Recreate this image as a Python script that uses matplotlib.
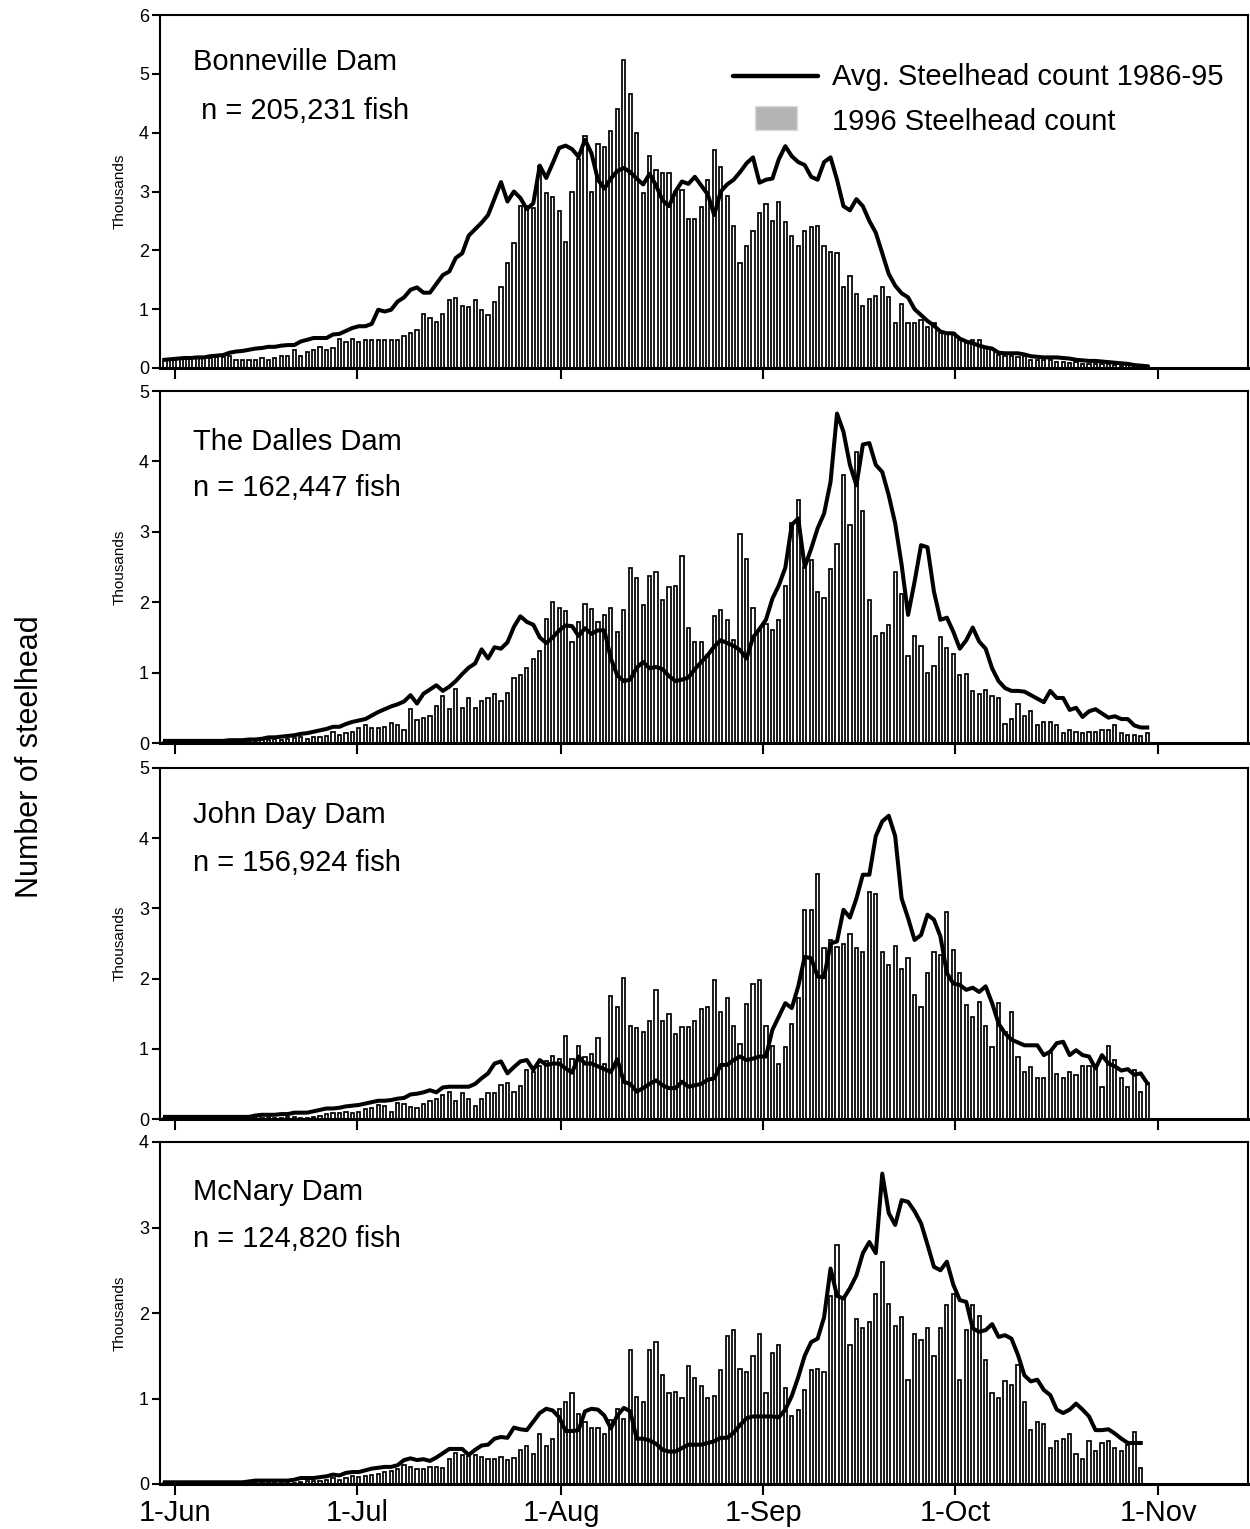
import numpy as np
import matplotlib.pyplot as plt
from matplotlib.patches import Rectangle

plt.rcParams['font.family'] = ['Liberation Sans', 'DejaVu Sans']

# daily steelhead counts in thousands, day 0 = 1 June
# Bonneville
bonn_1996 = [0.15, 0.15, 0.16, 0.16, 0.17, 0.17, 0.18, 0.17, 0.18, 0.19, 0.20,
             0.13, 0.13, 0.13, 0.13, 0.17, 0.13, 0.17, 0.21, 0.21, 0.31,
             0.20, 0.28, 0.31, 0.35, 0.30, 0.34, 0.50, 0.45, 0.50, 0.45,
             0.48, 0.48, 0.47, 0.48, 0.48, 0.48, 0.55, 0.60, 0.64, 0.92,
             0.85, 0.78, 0.92, 1.16, 1.19, 1.05, 1.03, 1.16, 0.99, 0.90,
             1.12, 1.37, 1.78, 2.12, 2.76, 2.76, 2.72, 3.44, 2.97, 2.90,
             2.67, 2.15, 3.00, 3.55, 3.95, 3.00, 3.81, 3.75, 4.02, 4.40,
             5.24, 4.66, 3.99, 2.97, 3.61, 3.37, 3.31, 3.31, 2.99, 3.02,
             2.53, 2.53, 2.73, 3.19, 3.70, 3.41, 2.93, 2.41, 1.78, 2.07,
             2.33, 2.63, 2.79, 2.50, 2.83, 2.49, 2.24, 2.08, 2.33, 2.39,
             2.42, 2.08, 1.98, 1.95, 1.37, 1.56, 1.26, 1.06, 1.17, 1.23,
             1.37, 1.20, 0.77, 1.09, 0.76, 0.76, 0.82, 0.70, 0.77, 0.59,
             0.59, 0.59, 0.48, 0.42, 0.48, 0.48, 0.36, 0.33, 0.22, 0.20,
             0.20, 0.18, 0.20, 0.14, 0.14, 0.13, 0.14, 0.10, 0.10, 0.09,
             0.10, 0.07, 0.06, 0.07, 0.06, 0.07, 0.05, 0.04, 0.05, 0.03, 0.03, 0.03]
bonn_avg = [0.14, 0.15, 0.16, 0.17, 0.17, 0.18, 0.18, 0.20, 0.21, 0.22, 0.26,
            0.28, 0.29, 0.31, 0.33, 0.34, 0.36, 0.36, 0.38, 0.39, 0.39,
            0.45, 0.48, 0.51, 0.51, 0.51, 0.57, 0.58, 0.63, 0.68, 0.71,
            0.71, 0.75, 0.99, 0.96, 0.99, 1.13, 1.20, 1.33, 1.37, 1.28,
            1.28, 1.43, 1.58, 1.64, 1.87, 1.95, 2.25, 2.36, 2.47, 2.60,
            2.88, 3.16, 2.83, 3.00, 2.89, 2.70, 2.80, 3.44, 3.23, 3.48,
            3.74, 3.78, 3.72, 3.59, 3.88, 3.65, 3.20, 3.05, 3.22, 3.35,
            3.40, 3.33, 3.22, 3.12, 3.30, 3.10, 2.85, 2.75, 3.00, 3.17,
            3.13, 3.25, 3.10, 2.95, 2.60, 3.00, 3.12, 3.20, 3.33, 3.48,
            3.58, 3.15, 3.20, 3.22, 3.55, 3.77, 3.60, 3.50, 3.45, 3.25,
            3.20, 3.50, 3.58, 3.20, 2.75, 2.68, 2.87, 2.75, 2.50, 2.30,
            1.95, 1.60, 1.40, 1.27, 1.20, 1.00, 0.90, 0.80, 0.72, 0.62,
            0.59, 0.59, 0.50, 0.45, 0.42, 0.38, 0.35, 0.33, 0.26, 0.25,
            0.25, 0.25, 0.23, 0.20, 0.19, 0.18, 0.18, 0.18, 0.17, 0.16,
            0.14, 0.13, 0.12, 0.12, 0.11, 0.10, 0.09, 0.08, 0.07, 0.05, 0.04, 0.03]

# The Dalles
dalles_1996 = [0.02, 0.02, 0.01, 0.02, 0.02, 0.03, 0.02, 0.02, 0.03, 0.02,
               0.03, 0.03, 0.04, 0.03, 0.03, 0.04, 0.04, 0.05,
               0.04, 0.05, 0.07, 0.08, 0.06, 0.09, 0.08, 0.10, 0.16, 0.11, 0.14, 0.16, 0.22,
               0.25, 0.22, 0.22, 0.23, 0.28, 0.25, 0.18, 0.48, 0.33, 0.36,
               0.39, 0.53, 0.67, 0.48, 0.76, 0.50, 0.64, 0.50, 0.59, 0.64, 0.69,
               0.60, 0.71, 0.93, 0.96, 1.07, 1.19, 1.30, 1.76, 2.00,
               1.92, 1.87, 1.44, 1.72, 1.98, 1.90, 1.72, 1.82, 1.92, 1.58,
               1.89, 2.49, 2.35, 1.96, 2.37, 2.43, 2.03, 2.21, 2.23, 2.66,
               1.63, 1.44, 1.44, 1.25, 1.81, 1.89, 1.75, 1.46, 2.97, 2.61,
               1.92, 1.60, 1.69, 1.60, 1.75, 2.23, 3.12, 3.45, 2.50, 2.60,
               2.14, 2.06, 2.47, 2.83, 3.80, 3.10, 4.14, 3.29, 2.03, 1.52,
               1.56, 1.67, 2.43, 2.12, 1.24, 1.52, 1.38, 0.99, 1.10, 1.50,
               1.35, 1.26, 0.96, 0.98, 0.74, 0.69, 0.75, 0.67, 0.64, 0.27,
               0.34, 0.56, 0.39, 0.45, 0.25, 0.30, 0.30, 0.25, 0.14, 0.18,
               0.16, 0.14, 0.16, 0.16, 0.19, 0.19, 0.25, 0.14, 0.12, 0.11, 0.10, 0.14]
dalles_avg = [0.03, 0.03, 0.03, 0.03, 0.03, 0.03, 0.03, 0.03, 0.03, 0.03,
              0.04, 0.04, 0.04, 0.05, 0.05,
              0.06, 0.08, 0.08, 0.09, 0.10, 0.11,
              0.13, 0.14, 0.16, 0.18, 0.20, 0.23, 0.23, 0.27, 0.30, 0.32,
              0.34, 0.39, 0.44, 0.48, 0.52, 0.55, 0.59, 0.68, 0.56, 0.70,
              0.76, 0.82, 0.74, 0.80, 0.88, 0.98, 1.07, 1.13, 1.33, 1.20, 1.36,
              1.34, 1.43, 1.65, 1.80, 1.72, 1.68, 1.50, 1.42, 1.50,
              1.60, 1.67, 1.66, 1.52, 1.63, 1.55, 1.60, 1.60, 1.20, 0.96,
              0.88, 0.90, 1.07, 1.15, 1.06, 1.08, 1.05, 0.95, 0.88, 0.90,
              0.93, 1.05, 1.15, 1.25, 1.37, 1.46, 1.42, 1.38, 1.32, 1.20,
              1.50, 1.62, 1.75, 2.05, 2.24, 2.49, 3.10, 3.19, 2.50, 2.76,
              3.05, 3.26, 3.71, 4.68, 4.42, 3.95, 3.66, 4.24, 4.26, 3.95,
              3.85, 3.52, 3.12, 2.53, 1.82, 2.29, 2.81, 2.78, 2.15, 1.75,
              1.78, 1.58, 1.34, 1.46, 1.64, 1.44, 1.34, 1.06, 0.88, 0.78,
              0.74, 0.74, 0.73, 0.68, 0.63, 0.58, 0.74, 0.64, 0.64, 0.47,
              0.50, 0.37, 0.45, 0.48, 0.42, 0.36, 0.38, 0.34, 0.34, 0.25, 0.22, 0.22]

# John Day
jday_1996 = [0.02, 0.02, 0.02, 0.01, 0.01, 0.02, 0.02, 0.01, 0.02, 0.02, 0.02,
             0.01, 0.02, 0.02, 0.02, 0.02, 0.03, 0.02, 0.02, 0.03, 0.03, 0.02,
             0.02, 0.03, 0.04, 0.07, 0.09, 0.09, 0.10, 0.09, 0.10,
             0.14, 0.15, 0.20, 0.18, 0.10, 0.23, 0.21, 0.17, 0.15, 0.22,
             0.26, 0.28, 0.34, 0.38, 0.26, 0.37, 0.28, 0.18, 0.29, 0.37, 0.37,
             0.48, 0.51, 0.39, 0.47, 0.70, 0.67, 0.75, 0.82, 0.90,
             0.86, 1.18, 0.86, 1.04, 0.88, 0.93, 1.16, 0.78, 1.75, 1.59,
             2.01, 1.32, 1.30, 1.24, 1.39, 1.84, 1.39, 1.50, 1.21, 1.31,
             1.31, 1.39, 1.56, 1.59, 1.98, 1.53, 1.73, 1.32, 1.07, 1.64,
             1.92, 1.98, 1.32, 1.04, 0.78, 1.02, 1.35, 1.73, 2.98, 2.98,
             3.49, 2.43, 2.55, 2.45, 2.50, 2.64, 2.43, 2.38, 3.23, 3.20,
             2.38, 2.19, 2.47, 2.13, 2.30, 1.77, 1.59, 2.08, 2.38, 2.34,
             2.95, 2.41, 2.08, 1.62, 1.45, 1.67, 1.32, 1.02, 1.65, 1.24,
             1.53, 0.88, 0.67, 0.74, 0.58, 0.58, 0.94, 0.64, 0.58, 0.67,
             0.63, 0.75, 0.75, 0.77, 0.45, 1.04, 0.84, 0.59, 0.45, 0.70, 0.39, 0.51]
jday_avg = [0.03, 0.03, 0.03, 0.03, 0.03, 0.03, 0.03, 0.03, 0.03, 0.03, 0.03, 0.03, 0.03,
            0.03, 0.05, 0.06, 0.06, 0.06, 0.07, 0.07, 0.09, 0.09, 0.09,
            0.11, 0.13, 0.15, 0.15, 0.16, 0.18, 0.19, 0.20,
            0.22, 0.24, 0.26, 0.26, 0.27, 0.29, 0.30, 0.35, 0.36, 0.38,
            0.41, 0.38, 0.45, 0.46, 0.46, 0.46, 0.46, 0.50, 0.58, 0.65, 0.79,
            0.82, 0.65, 0.74, 0.82, 0.84, 0.70, 0.84, 0.77, 0.79,
            0.79, 0.72, 0.66, 0.89, 0.79, 0.79, 0.75, 0.71, 0.67, 0.85,
            0.53, 0.50, 0.39, 0.44, 0.50, 0.55, 0.48, 0.44, 0.44, 0.53,
            0.46, 0.48, 0.50, 0.56, 0.58, 0.77, 0.77, 0.84, 0.89, 0.84,
            0.86, 0.89, 0.89, 1.27, 1.46, 1.65, 1.58, 1.89, 2.31, 2.29,
            2.03, 2.02, 2.50, 2.53, 2.98, 2.87, 3.14, 3.48, 3.48, 4.03,
            4.24, 4.32, 4.03, 3.14, 2.86, 2.55, 2.62, 2.91, 2.84, 2.60,
            2.08, 1.93, 1.91, 1.84, 1.87, 1.81, 1.89, 1.65, 1.36, 1.22,
            1.13, 1.09, 1.05, 1.05, 1.05, 0.91, 0.96, 1.08, 1.10, 0.91,
            0.98, 0.91, 0.89, 0.72, 0.91, 0.79, 0.75, 0.69, 0.71, 0.63, 0.65, 0.51]

# McNary
mcn_1996 = [0.01, 0.01, 0.01, 0.01, 0.01, 0.01, 0.01, 0.01, 0.01, 0.01, 0.01,
            0.01, 0.01, 0.01, 0.01, 0.01, 0.01, 0.01, 0.01, 0.01, 0.01,
            0.02, 0.03, 0.03, 0.04, 0.05, 0.07, 0.05, 0.07, 0.09, 0.08,
            0.09, 0.10, 0.12, 0.14, 0.15, 0.18, 0.22, 0.20, 0.18, 0.18,
            0.20, 0.20, 0.19, 0.29, 0.36, 0.34, 0.33, 0.34, 0.31, 0.29, 0.29,
            0.31, 0.28, 0.30, 0.40, 0.45, 0.35, 0.58, 0.45, 0.53,
            0.88, 0.96, 1.07, 0.82, 0.73, 0.65, 0.65, 0.59, 0.75, 0.88,
            0.76, 1.57, 1.02, 0.96, 1.57, 1.66, 1.27, 1.06, 1.08, 1.01,
            1.38, 1.24, 1.15, 1.01, 1.03, 1.33, 1.73, 1.80, 1.35, 1.31,
            1.50, 1.75, 1.07, 1.53, 1.62, 1.12, 0.79, 0.87, 1.10, 1.33,
            1.35, 1.31, 2.20, 2.80, 2.17, 1.63, 1.93, 1.83, 1.89, 2.22,
            2.60, 2.10, 1.85, 1.95, 1.22, 1.75, 1.69, 1.82, 1.50, 1.83,
            2.09, 2.22, 1.22, 1.80, 2.09, 1.97, 1.45, 1.06, 1.01, 1.20,
            1.16, 1.39, 0.96, 0.63, 0.73, 0.70, 0.42, 0.50, 0.53, 0.58,
            0.35, 0.29, 0.50, 0.39, 0.48, 0.50, 0.42, 0.39, 0.46, 0.61, 0.19]
mcn_avg = [0.02, 0.02, 0.02, 0.02, 0.02, 0.02, 0.02, 0.02, 0.02, 0.02, 0.02, 0.02, 0.02,
           0.03, 0.04, 0.04, 0.04, 0.04, 0.04, 0.04, 0.05,
           0.07, 0.07, 0.07, 0.08, 0.09, 0.11, 0.10, 0.13, 0.14, 0.14,
           0.16, 0.18, 0.19, 0.20, 0.20, 0.22, 0.28, 0.30, 0.28, 0.29,
           0.27, 0.31, 0.36, 0.41, 0.41, 0.41, 0.34, 0.40, 0.45, 0.46, 0.53,
           0.55, 0.54, 0.66, 0.64, 0.63, 0.73, 0.83, 0.88, 0.86,
           0.78, 0.62, 0.62, 0.63, 0.85, 0.88, 0.87, 0.80, 0.65, 0.80,
           0.89, 0.85, 0.53, 0.53, 0.51, 0.47, 0.40, 0.38, 0.38, 0.42,
           0.46, 0.46, 0.46, 0.48, 0.50, 0.54, 0.54, 0.60, 0.69, 0.77,
           0.79, 0.79, 0.79, 0.79, 0.78, 0.87, 1.03, 1.25, 1.50, 1.66,
           1.70, 1.95, 2.52, 2.20, 2.17, 2.29, 2.44, 2.70, 2.83, 2.70,
           3.63, 3.17, 3.03, 3.32, 3.30, 3.19, 3.05, 2.80, 2.54, 2.50,
           2.60, 2.33, 2.15, 2.13, 1.82, 1.78, 1.80, 1.87, 1.72, 1.74,
           1.70, 1.51, 1.27, 1.20, 1.22, 1.10, 1.04, 0.87, 0.83, 0.87,
           0.94, 0.87, 0.79, 0.63, 0.63, 0.64, 0.59, 0.53, 0.48, 0.48, 0.48]

dam_names = ['Bonneville Dam', 'The Dalles Dam', 'John Day Dam', 'McNary Dam']
dam_totals = [' n = 205,231 fish', 'n = 162,447 fish', 'n = 156,924 fish', 'n = 124,820 fish']
counts_1996 = [bonn_1996, dalles_1996, jday_1996, mcn_1996]
counts_avg = [bonn_avg, dalles_avg, jday_avg, mcn_avg]
y_max = [6, 5, 5, 4]
month_labels = ['1-Jun', '1-Jul', '1-Aug', '1-Sep', '1-Oct', '1-Nov']
month_pos = [1.5, 29.7, 61.3, 92.6, 122.3, 153.7]

W, H = 1250, 1529
fig = plt.figure(figsize=(W / 100, H / 100), dpi=100)

# panel boxes in pixels: (top, bottom)
boxes = [(15, 368), (391, 743), (768, 1119), (1142, 1484)]
name_base = [70, 450, 823, 1200]
total_base = [119, 496, 871, 1247]
left_px, right_px = 160, 1248

axes = []
for i, (top, bot) in enumerate(boxes):
    ax = fig.add_axes([left_px / W, 1 - bot / H, (right_px - left_px) / W, (bot - top) / H])
    axes.append(ax)
    x1 = np.arange(len(counts_1996[i]))
    x2 = np.arange(len(counts_avg[i]))
    ax.bar(x1, counts_1996[i], width=0.5, color='white', edgecolor='black', linewidth=1.25, zorder=2)
    ax.plot(x2, counts_avg[i], color='black', lw=2.9, zorder=3)
    ax.set_xlim(-0.77, 167.6)
    ax.set_ylim(0, y_max[i])
    ax.set_yticks(range(0, y_max[i] + 1))
    ax.set_xticks(month_pos)
    if i == 3:
        ax.set_xticklabels(month_labels, fontsize=21)
    else:
        ax.set_xticklabels([])
    ax.tick_params(axis='y', labelsize=13, length=6, width=1.5, pad=2)
    ax.tick_params(axis='x', length=8, width=1.5, pad=3)
    for s in ax.spines.values():
        s.set_linewidth(1.5)
    ax.spines['bottom'].set_linewidth(2.2)
    ax.text(-0.0368, 0.5, 'Thousands', transform=ax.transAxes, rotation=90,
            ha='center', va='center', fontsize=11)
    fig.text(193 / W, 1 - name_base[i] / H, dam_names[i], fontsize=21, va='baseline')
    fig.text(193 / W, 1 - total_base[i] / H, dam_totals[i], fontsize=21, va='baseline')

# legend on first panel
ax = axes[0]
ax.plot([0.5267, 0.6048], [0.8272, 0.8272], transform=ax.transAxes, color='black', lw=3.2,
        solid_capstyle='round', zorder=4)
ax.add_patch(Rectangle((0.5469, 0.6742), 0.0386, 0.068, transform=ax.transAxes,
                       facecolor='#b4b4b4', edgecolor='#dcdcdc', lw=1, zorder=4))
ax.text(0.6176, 0.8017, 'Avg. Steelhead count 1986-95', transform=ax.transAxes,
        fontsize=21, va='baseline')
ax.text(0.6176, 0.6742, '1996 Steelhead count', transform=ax.transAxes,
        fontsize=21, va='baseline')

fig.text(30 / W, 1 - 757 / H, 'Number of steelhead', rotation=90, fontsize=22,
         ha='center', va='center')

fig.savefig('out.png', dpi=100)
